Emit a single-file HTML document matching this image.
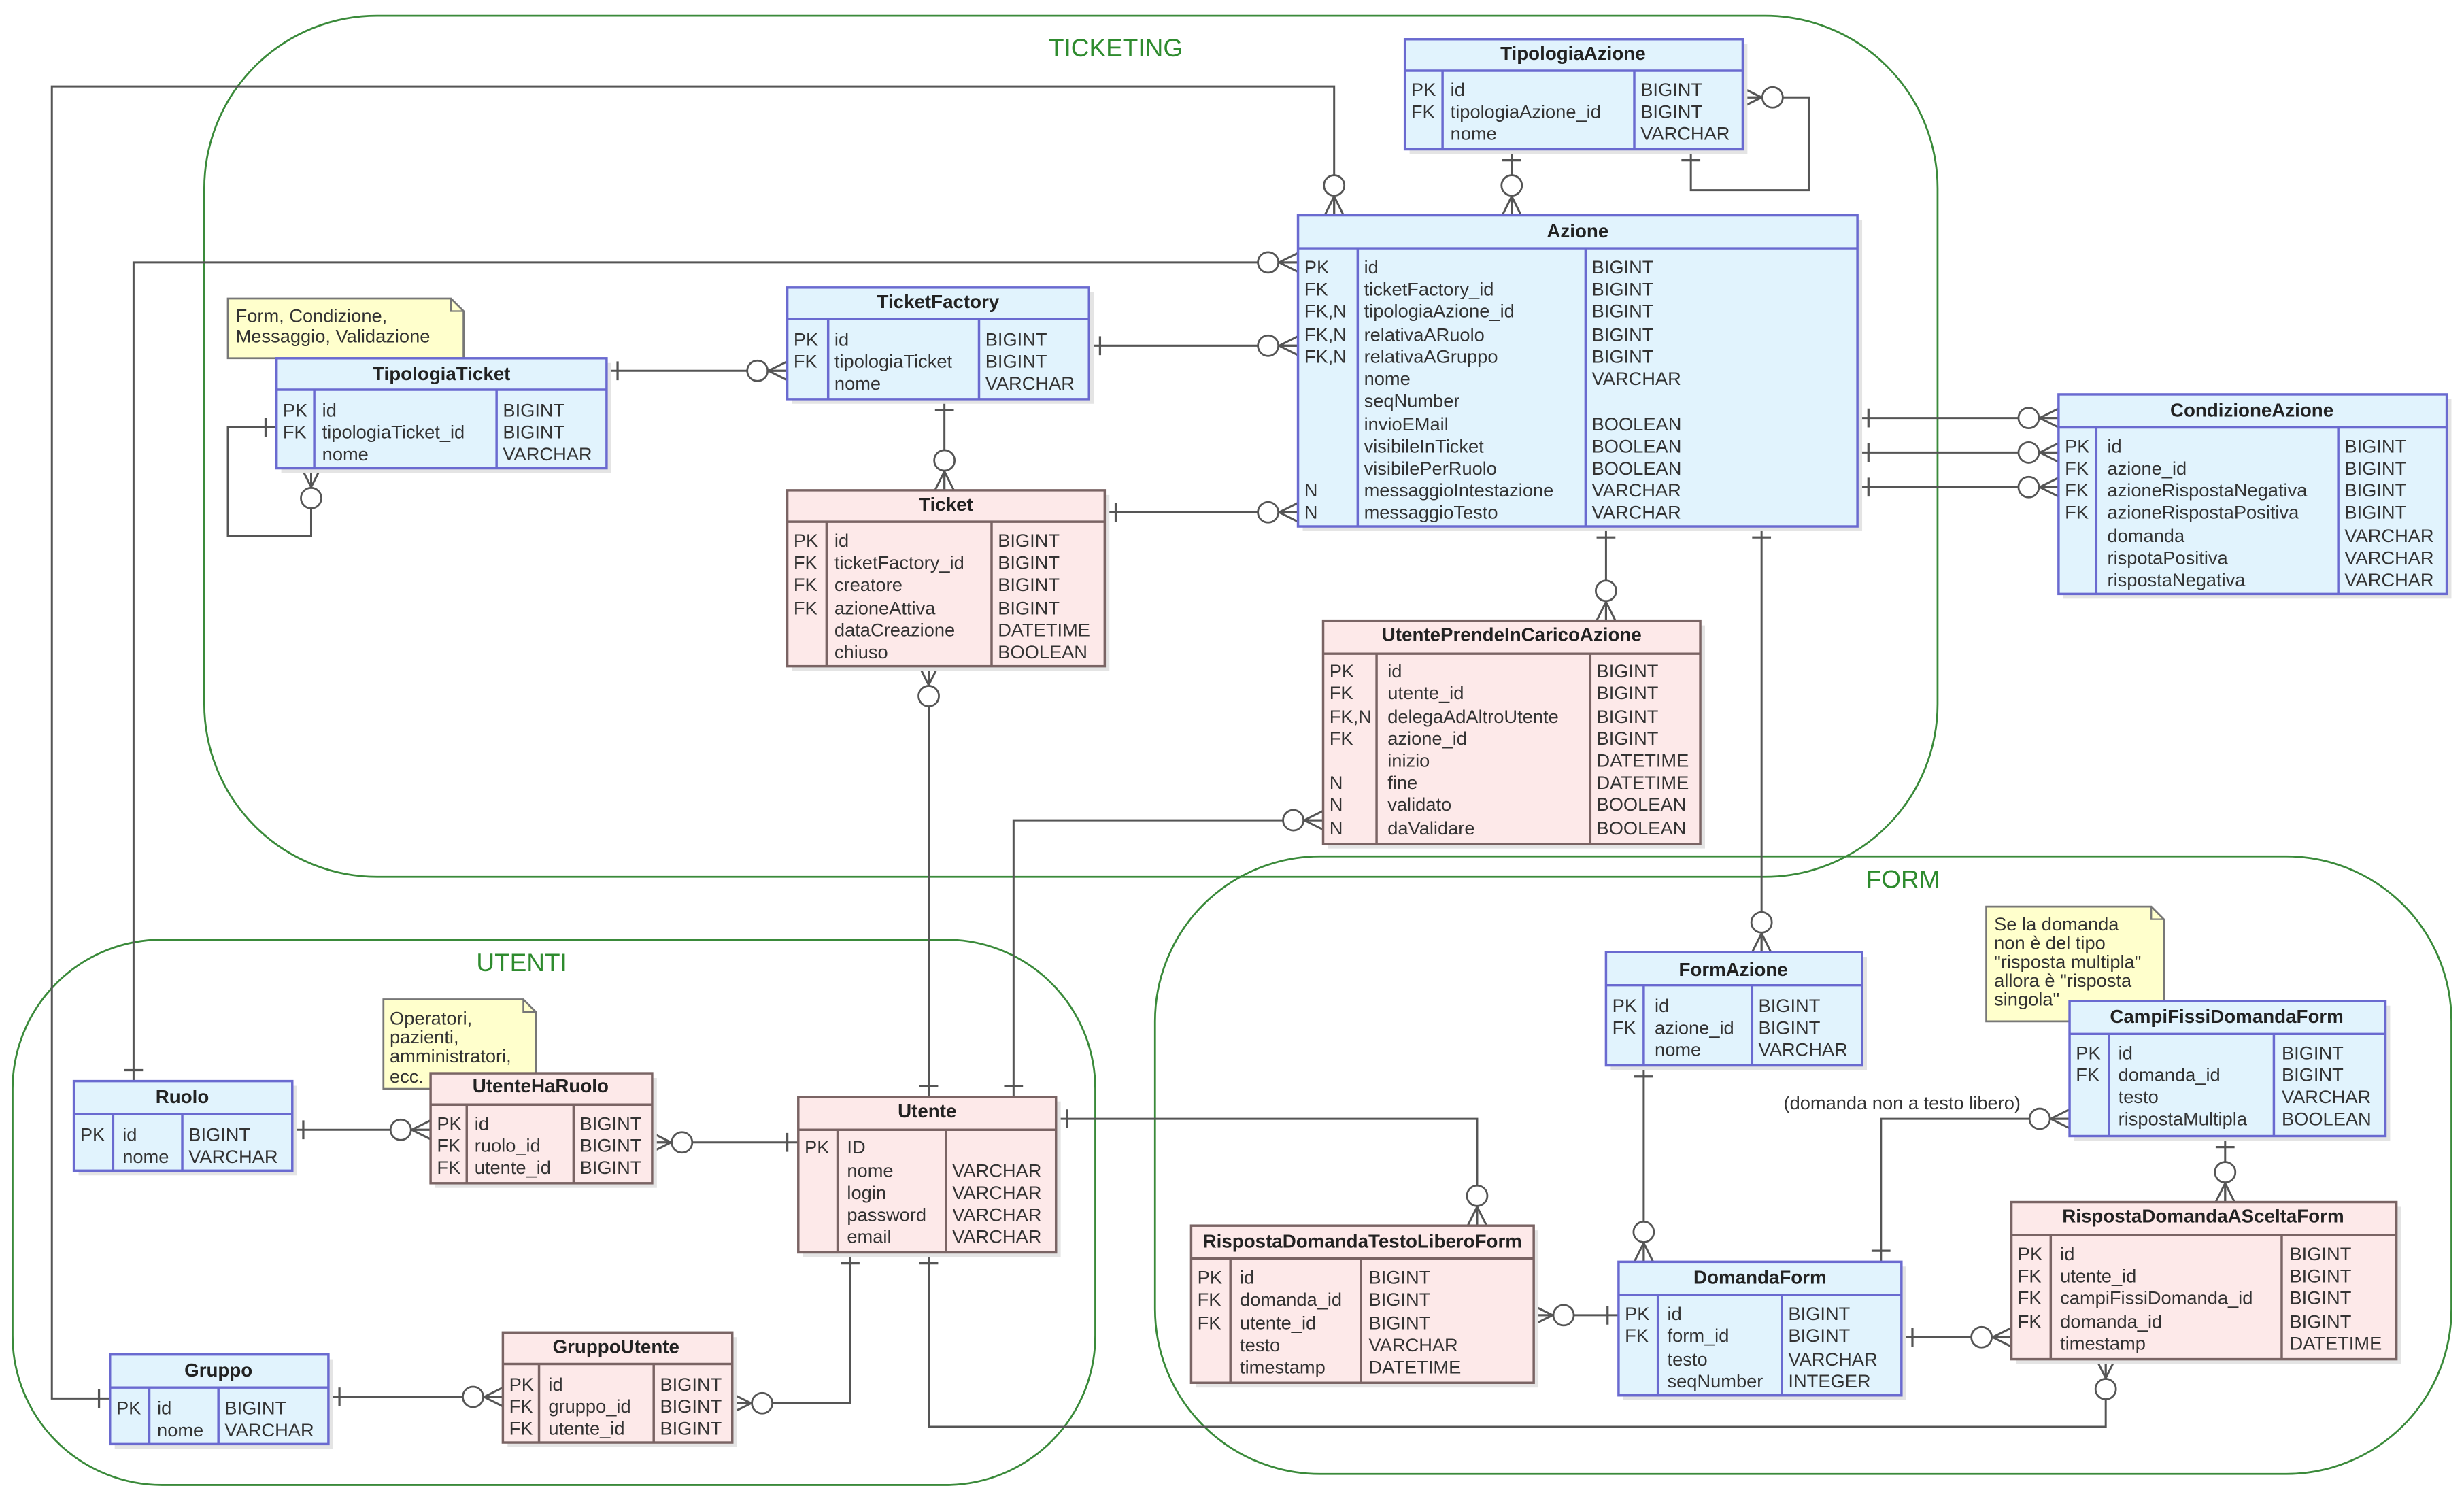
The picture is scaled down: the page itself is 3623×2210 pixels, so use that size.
<!DOCTYPE html>
<html><head><meta charset="utf-8"><style>
html,body{margin:0;padding:0;background:#fff;}
svg{display:block;}
text{font-family:"Liberation Sans",sans-serif;font-size:11.8px;fill:#333;}
.t{font-weight:bold;font-size:12px;fill:#222;text-anchor:middle;}
.bl{fill:#e1f3fd;stroke:#6a6ad0;stroke-width:1.5;}
.pk{fill:#fde9e9;stroke:#7a6464;stroke-width:1.5;}
.lb{stroke:#6a6ad0;stroke-width:1.5;}
.lp{stroke:#7a6464;stroke-width:1.5;}
.sh{fill:#e4e4e4;}
.c{fill:none;stroke:#555;stroke-width:1.3;}
.g{fill:none;stroke:#3a8a3a;stroke-width:1.2;}
.gt{fill:#2e8b2e;font-size:16px;text-anchor:middle;}
.n{fill:#ffffcc;stroke:#777;stroke-width:1.2;}
</style></head><body>
<svg width="3623" height="2210" viewBox="0 0 1568 956.5" preserveAspectRatio="none" xmlns="http://www.w3.org/2000/svg">
<defs>
<marker id="m" viewBox="-30 -10 32 20" refX="0" refY="0" markerWidth="32" markerHeight="20" orient="auto" markerUnits="userSpaceOnUse">
<path d="M-12 0L0 -6M-12 0L0 0M-12 0L0 6" stroke="#555" stroke-width="1.3" fill="none"/>
<circle cx="-19" cy="0" r="6.5" fill="#fff" stroke="#555" stroke-width="1.2"/>
</marker>
<marker id="b" viewBox="-30 -10 32 20" refX="0" refY="0" markerWidth="32" markerHeight="20" orient="auto-start-reverse" markerUnits="userSpaceOnUse">
<path d="M-7 -6L-7 6" stroke="#555" stroke-width="1.4"/>
</marker>
</defs>

<!-- groups -->
<rect class="g" x="130" y="10" width="1103" height="548" rx="110"/>
<text class="gt" x="710" y="36">TICKETING</text>
<rect class="g" x="8" y="598" width="689" height="347" rx="95"/>
<text class="gt" x="332" y="618">UTENTI</text>
<rect class="g" x="735" y="545" width="825" height="393" rx="105"/>
<text class="gt" x="1211" y="565">FORM</text>

<!-- connectors -->
<path class="c" d="M1076 95L1076 121L1151 121L1151 62L1109 62" marker-start="url(#b)" marker-end="url(#m)"/>
<path class="c" d="M962 95L962 137" marker-start="url(#b)" marker-end="url(#m)"/>
<path class="c" d="M70 890L33 890L33 55L849 55L849 137" marker-start="url(#b)" marker-end="url(#m)"/>
<path class="c" d="M85 688L85 167L826 167" marker-start="url(#b)" marker-end="url(#m)"/>
<path class="c" d="M693 220L826 220" marker-start="url(#b)" marker-end="url(#m)"/>
<path class="c" d="M386 236L501 236" marker-start="url(#b)" marker-end="url(#m)"/>
<path class="c" d="M176 272L145 272L145 341L198 341L198 298" marker-start="url(#b)" marker-end="url(#m)"/>
<path class="c" d="M601 254L601 312" marker-start="url(#b)" marker-end="url(#m)"/>
<path class="c" d="M703 326L826 326" marker-start="url(#b)" marker-end="url(#m)"/>
<path class="c" d="M1022 335L1022 395" marker-start="url(#b)" marker-end="url(#m)"/>
<path class="c" d="M1121 335L1121 606" marker-start="url(#b)" marker-end="url(#m)"/>
<path class="c" d="M1182 266L1310 266" marker-start="url(#b)" marker-end="url(#m)"/>
<path class="c" d="M1182 288L1310 288" marker-start="url(#b)" marker-end="url(#m)"/>
<path class="c" d="M1182 310L1310 310" marker-start="url(#b)" marker-end="url(#m)"/>
<path class="c" d="M591 698L591 424" marker-start="url(#b)" marker-end="url(#m)"/>
<path class="c" d="M645 698L645 522L842 522" marker-start="url(#b)" marker-end="url(#m)"/>
<path class="c" d="M672 712L940 712L940 780" marker-start="url(#b)" marker-end="url(#m)"/>
<path class="c" d="M186 719L274 719" marker-start="url(#b)" marker-end="url(#m)"/>
<path class="c" d="M508 727L415 727" marker-start="url(#b)" marker-end="url(#m)"/>
<path class="c" d="M209 889L320 889" marker-start="url(#b)" marker-end="url(#m)"/>
<path class="c" d="M541 797L541 893L466 893" marker-start="url(#b)" marker-end="url(#m)"/>
<path class="c" d="M591 797L591 908L1340 908L1340 865" marker-start="url(#b)" marker-end="url(#m)"/>
<path class="c" d="M1030 837L976 837" marker-start="url(#b)" marker-end="url(#m)"/>
<path class="c" d="M1046 678L1046 803" marker-start="url(#b)" marker-end="url(#m)"/>
<path class="c" d="M1197 803L1197 712L1317 712" marker-start="url(#b)" marker-end="url(#m)"/>
<path class="c" d="M1416 723L1416 765" marker-start="url(#b)" marker-end="url(#m)"/>
<path class="c" d="M1210 851L1280 851" marker-start="url(#b)" marker-end="url(#m)"/>
<text x="1135" y="706">(domanda non a testo libero)</text>

<!-- notes -->
<path class="n" d="M145 190L287 190L295 198L295 228L145 228Z"/><path d="M287 190L287 198L295 198" fill="none" stroke="#777"/>
<text x="150" y="205">Form, Condizione,</text><text x="150" y="218">Messaggio, Validazione</text>
<path class="n" d="M244 636L333 636L341 644L341 693L244 693Z"/><path d="M333 636L333 644L341 644" fill="none" stroke="#777"/>
<text x="248" y="652">Operatori,</text><text x="248" y="664">pazienti,</text><text x="248" y="676">amministratori,</text><text x="248" y="689">ecc.</text>
<path class="n" d="M1264 577L1369 577L1377 585L1377 650L1264 650Z"/><path d="M1369 577L1369 585L1377 585" fill="none" stroke="#777"/>
<text x="1269" y="592">Se la domanda</text><text x="1269" y="604">non è del tipo</text><text x="1269" y="616">"risposta multipla"</text><text x="1269" y="628">allora è "risposta</text><text x="1269" y="640">singola"</text>

<!-- TipologiaAzione -->
<rect class="sh" x="897" y="28" width="215" height="70"/>
<rect class="bl" x="894" y="25" width="215" height="70"/>
<path class="lb" d="M894 45H1109M918 45V95M1040 45V95"/>
<text class="t" x="1001" y="38">TipologiaAzione</text>
<text x="898" y="61">PK</text><text x="898" y="75">FK</text>
<text x="923" y="61">id</text><text x="923" y="75">tipologiaAzione_id</text><text x="923" y="89">nome</text>
<text x="1044" y="61">BIGINT</text><text x="1044" y="75">BIGINT</text><text x="1044" y="89">VARCHAR</text>

<!-- Azione -->
<rect class="sh" x="829" y="140" width="356" height="198"/>
<rect class="bl" x="826" y="137" width="356" height="198"/>
<path class="lb" d="M826 158H1182M864 158V335M1009 158V335"/>
<text class="t" x="1004" y="151">Azione</text>
<text x="830" y="174">PK</text><text x="830" y="188">FK</text><text x="830" y="202">FK,N</text><text x="830" y="217">FK,N</text><text x="830" y="231">FK,N</text><text x="830" y="316">N</text><text x="830" y="330">N</text>
<text x="868" y="174">id</text><text x="868" y="188">ticketFactory_id</text><text x="868" y="202">tipologiaAzione_id</text><text x="868" y="217">relativaARuolo</text><text x="868" y="231">relativaAGruppo</text><text x="868" y="245">nome</text><text x="868" y="259">seqNumber</text><text x="868" y="274">invioEMail</text><text x="868" y="288">visibileInTicket</text><text x="868" y="302">visibilePerRuolo</text><text x="868" y="316">messaggioIntestazione</text><text x="868" y="330">messaggioTesto</text>
<text x="1013" y="174">BIGINT</text><text x="1013" y="188">BIGINT</text><text x="1013" y="202">BIGINT</text><text x="1013" y="217">BIGINT</text><text x="1013" y="231">BIGINT</text><text x="1013" y="245">VARCHAR</text><text x="1013" y="274">BOOLEAN</text><text x="1013" y="288">BOOLEAN</text><text x="1013" y="302">BOOLEAN</text><text x="1013" y="316">VARCHAR</text><text x="1013" y="330">VARCHAR</text>

<!-- TicketFactory -->
<rect class="sh" x="504" y="186" width="192" height="71"/>
<rect class="bl" x="501" y="183" width="192" height="71"/>
<path class="lb" d="M501 203H693M527 203V254M623 203V254"/>
<text class="t" x="597" y="196">TicketFactory</text>
<text x="505" y="220">PK</text><text x="505" y="234">FK</text>
<text x="531" y="220">id</text><text x="531" y="234">tipologiaTicket</text><text x="531" y="248">nome</text>
<text x="627" y="220">BIGINT</text><text x="627" y="234">BIGINT</text><text x="627" y="248">VARCHAR</text>

<!-- TipologiaTicket -->
<rect class="sh" x="179" y="231" width="210" height="70"/>
<rect class="bl" x="176" y="228" width="210" height="70"/>
<path class="lb" d="M176 248H386M200 248V298M316 248V298"/>
<text class="t" x="281" y="242">TipologiaTicket</text>
<text x="180" y="265">PK</text><text x="180" y="279">FK</text>
<text x="205" y="265">id</text><text x="205" y="279">tipologiaTicket_id</text><text x="205" y="293">nome</text>
<text x="320" y="265">BIGINT</text><text x="320" y="279">BIGINT</text><text x="320" y="293">VARCHAR</text>

<!-- Ticket -->
<rect class="sh" x="504" y="315" width="202" height="112"/>
<rect class="pk" x="501" y="312" width="202" height="112"/>
<path class="lp" d="M501 332H703M526 332V424M631 332V424"/>
<text class="t" x="602" y="325">Ticket</text>
<text x="505" y="348">PK</text><text x="505" y="362">FK</text><text x="505" y="376">FK</text><text x="505" y="391">FK</text>
<text x="531" y="348">id</text><text x="531" y="362">ticketFactory_id</text><text x="531" y="376">creatore</text><text x="531" y="391">azioneAttiva</text><text x="531" y="405">dataCreazione</text><text x="531" y="419">chiuso</text>
<text x="635" y="348">BIGINT</text><text x="635" y="362">BIGINT</text><text x="635" y="376">BIGINT</text><text x="635" y="391">BIGINT</text><text x="635" y="405">DATETIME</text><text x="635" y="419">BOOLEAN</text>

<!-- UtentePrendeInCaricoAzione -->
<rect class="sh" x="845" y="398" width="240" height="142"/>
<rect class="pk" x="842" y="395" width="240" height="142"/>
<path class="lp" d="M842 416H1082M876 416V537M1012 416V537"/>
<text class="t" x="962" y="408">UtentePrendeInCaricoAzione</text>
<text x="846" y="431">PK</text><text x="846" y="445">FK</text><text x="846" y="460">FK,N</text><text x="846" y="474">FK</text><text x="846" y="502">N</text><text x="846" y="516">N</text><text x="846" y="531">N</text>
<text x="883" y="431">id</text><text x="883" y="445">utente_id</text><text x="883" y="460">delegaAdAltroUtente</text><text x="883" y="474">azione_id</text><text x="883" y="488">inizio</text><text x="883" y="502">fine</text><text x="883" y="516">validato</text><text x="883" y="531">daValidare</text>
<text x="1016" y="431">BIGINT</text><text x="1016" y="445">BIGINT</text><text x="1016" y="460">BIGINT</text><text x="1016" y="474">BIGINT</text><text x="1016" y="488">DATETIME</text><text x="1016" y="502">DATETIME</text><text x="1016" y="516">BOOLEAN</text><text x="1016" y="531">BOOLEAN</text>

<!-- CondizioneAzione -->
<rect class="sh" x="1313" y="254" width="247" height="127"/>
<rect class="bl" x="1310" y="251" width="247" height="127"/>
<path class="lb" d="M1310 272H1557M1334 272V378M1488 272V378"/>
<text class="t" x="1433" y="265">CondizioneAzione</text>
<text x="1314" y="288">PK</text><text x="1314" y="302">FK</text><text x="1314" y="316">FK</text><text x="1314" y="330">FK</text>
<text x="1341" y="288">id</text><text x="1341" y="302">azione_id</text><text x="1341" y="316">azioneRispostaNegativa</text><text x="1341" y="330">azioneRispostaPositiva</text><text x="1341" y="345">domanda</text><text x="1341" y="359">rispotaPositiva</text><text x="1341" y="373">rispostaNegativa</text>
<text x="1492" y="288">BIGINT</text><text x="1492" y="302">BIGINT</text><text x="1492" y="316">BIGINT</text><text x="1492" y="330">BIGINT</text><text x="1492" y="345">VARCHAR</text><text x="1492" y="359">VARCHAR</text><text x="1492" y="373">VARCHAR</text>

<!-- FormAzione -->
<rect class="sh" x="1025" y="609" width="163" height="72"/>
<rect class="bl" x="1022" y="606" width="163" height="72"/>
<path class="lb" d="M1022 627H1185M1046 627V678M1115 627V678"/>
<text class="t" x="1103" y="621">FormAzione</text>
<text x="1026" y="644">PK</text><text x="1026" y="658">FK</text>
<text x="1053" y="644">id</text><text x="1053" y="658">azione_id</text><text x="1053" y="672">nome</text>
<text x="1119" y="644">BIGINT</text><text x="1119" y="658">BIGINT</text><text x="1119" y="672">VARCHAR</text>

<!-- CampiFissiDomandaForm -->
<rect class="sh" x="1320" y="640" width="201" height="86"/>
<rect class="bl" x="1317" y="637" width="201" height="86"/>
<path class="lb" d="M1317 658H1518M1342 658V723M1447 658V723"/>
<text class="t" x="1417" y="651">CampiFissiDomandaForm</text>
<text x="1321" y="674">PK</text><text x="1321" y="688">FK</text>
<text x="1348" y="674">id</text><text x="1348" y="688">domanda_id</text><text x="1348" y="702">testo</text><text x="1348" y="716">rispostaMultipla</text>
<text x="1452" y="674">BIGINT</text><text x="1452" y="688">BIGINT</text><text x="1452" y="702">VARCHAR</text><text x="1452" y="716">BOOLEAN</text>

<!-- RispostaDomandaASceltaForm -->
<rect class="sh" x="1283" y="768" width="245" height="100"/>
<rect class="pk" x="1280" y="765" width="245" height="100"/>
<path class="lp" d="M1280 786H1525M1305 786V865M1452 786V865"/>
<text class="t" x="1402" y="778">RispostaDomandaASceltaForm</text>
<text x="1284" y="802">PK</text><text x="1284" y="816">FK</text><text x="1284" y="830">FK</text><text x="1284" y="845">FK</text>
<text x="1311" y="802">id</text><text x="1311" y="816">utente_id</text><text x="1311" y="830">campiFissiDomanda_id</text><text x="1311" y="845">domanda_id</text><text x="1311" y="859">timestamp</text>
<text x="1457" y="802">BIGINT</text><text x="1457" y="816">BIGINT</text><text x="1457" y="830">BIGINT</text><text x="1457" y="845">BIGINT</text><text x="1457" y="859">DATETIME</text>

<!-- DomandaForm -->
<rect class="sh" x="1033" y="806" width="180" height="85"/>
<rect class="bl" x="1030" y="803" width="180" height="85"/>
<path class="lb" d="M1030 824H1210M1055 824V888M1134 824V888"/>
<text class="t" x="1120" y="817">DomandaForm</text>
<text x="1034" y="840">PK</text><text x="1034" y="854">FK</text>
<text x="1061" y="840">id</text><text x="1061" y="854">form_id</text><text x="1061" y="869">testo</text><text x="1061" y="883">seqNumber</text>
<text x="1138" y="840">BIGINT</text><text x="1138" y="854">BIGINT</text><text x="1138" y="869">VARCHAR</text><text x="1138" y="883">INTEGER</text>

<!-- RispostaDomandaTestoLiberoForm -->
<rect class="sh" x="761" y="783" width="218" height="100"/>
<rect class="pk" x="758" y="780" width="218" height="100"/>
<path class="lp" d="M758 801H976M783 801V880M866 801V880"/>
<text class="t" x="867" y="794">RispostaDomandaTestoLiberoForm</text>
<text x="762" y="817">PK</text><text x="762" y="831">FK</text><text x="762" y="846">FK</text>
<text x="789" y="817">id</text><text x="789" y="831">domanda_id</text><text x="789" y="846">utente_id</text><text x="789" y="860">testo</text><text x="789" y="874">timestamp</text>
<text x="871" y="817">BIGINT</text><text x="871" y="831">BIGINT</text><text x="871" y="846">BIGINT</text><text x="871" y="860">VARCHAR</text><text x="871" y="874">DATETIME</text>

<!-- Utente -->
<rect class="sh" x="511" y="701" width="164" height="99"/>
<rect class="pk" x="508" y="698" width="164" height="99"/>
<path class="lp" d="M508 719H672M533 719V797M602 719V797"/>
<text class="t" x="590" y="711">Utente</text>
<text x="512" y="734">PK</text>
<text x="539" y="734">ID</text><text x="539" y="749">nome</text><text x="539" y="763">login</text><text x="539" y="777">password</text><text x="539" y="791">email</text>
<text x="606" y="749">VARCHAR</text><text x="606" y="763">VARCHAR</text><text x="606" y="777">VARCHAR</text><text x="606" y="791">VARCHAR</text>

<!-- Ruolo -->
<rect class="sh" x="50" y="691" width="139" height="57"/>
<rect class="bl" x="47" y="688" width="139" height="57"/>
<path class="lb" d="M47 709H186M72 709V745M116 709V745"/>
<text class="t" x="116" y="702">Ruolo</text>
<text x="51" y="726">PK</text>
<text x="78" y="726">id</text><text x="78" y="740">nome</text>
<text x="120" y="726">BIGINT</text><text x="120" y="740">VARCHAR</text>

<!-- UtenteHaRuolo -->
<rect class="sh" x="277" y="686" width="141" height="70"/>
<rect class="pk" x="274" y="683" width="141" height="70"/>
<path class="lp" d="M274 703H415M297 703V753M365 703V753"/>
<text class="t" x="344" y="695">UtenteHaRuolo</text>
<text x="278" y="719">PK</text><text x="278" y="733">FK</text><text x="278" y="747">FK</text>
<text x="302" y="719">id</text><text x="302" y="733">ruolo_id</text><text x="302" y="747">utente_id</text>
<text x="369" y="719">BIGINT</text><text x="369" y="733">BIGINT</text><text x="369" y="747">BIGINT</text>

<!-- Gruppo -->
<rect class="sh" x="73" y="865" width="139" height="57"/>
<rect class="bl" x="70" y="862" width="139" height="57"/>
<path class="lb" d="M70 883H209M95 883V919M139 883V919"/>
<text class="t" x="139" y="876">Gruppo</text>
<text x="74" y="900">PK</text>
<text x="100" y="900">id</text><text x="100" y="914">nome</text>
<text x="143" y="900">BIGINT</text><text x="143" y="914">VARCHAR</text>

<!-- GruppoUtente -->
<rect class="sh" x="323" y="851" width="146" height="70"/>
<rect class="pk" x="320" y="848" width="146" height="70"/>
<path class="lp" d="M320 868H466M343 868V918M416 868V918"/>
<text class="t" x="392" y="861">GruppoUtente</text>
<text x="324" y="885">PK</text><text x="324" y="899">FK</text><text x="324" y="913">FK</text>
<text x="349" y="885">id</text><text x="349" y="899">gruppo_id</text><text x="349" y="913">utente_id</text>
<text x="420" y="885">BIGINT</text><text x="420" y="899">BIGINT</text><text x="420" y="913">BIGINT</text>
</svg>
</body></html>
